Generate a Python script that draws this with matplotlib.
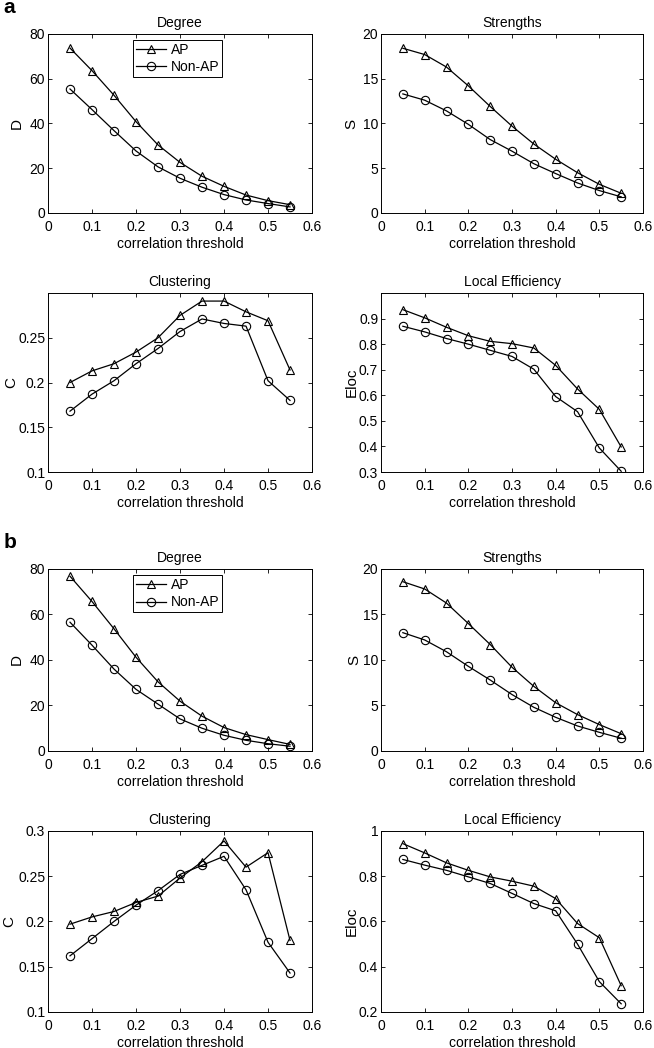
"""
Network metrics vs correlation threshold (AP vs Non-AP), two groups a/b.
"""
import matplotlib
matplotlib.use("Agg")
import matplotlib.pyplot as plt
from matplotlib.ticker import FuncFormatter

plt.rcParams["font.family"] = ["Liberation Sans", "DejaVu Sans"]
plt.rcParams["font.size"] = 10

# ── Data ────────────────────────────────────────────────────
thresholds = [0.05, 0.10, 0.15, 0.20, 0.25, 0.30, 0.35, 0.40, 0.45, 0.50, 0.55]

# panel a
a_degree_ap = [73.7, 63.6, 52.6, 40.8, 30.4, 22.6, 16.4, 11.9, 8.0, 5.5, 3.7]
a_degree_non = [55.4, 46.2, 36.8, 27.7, 20.6, 15.5, 11.5, 8.2, 5.8, 4.2, 2.7]
a_strength_ap = [18.4, 17.7, 16.3, 14.2, 11.9, 9.7, 7.7, 6.0, 4.5, 3.2, 2.2]
a_strength_non = [13.3, 12.6, 11.4, 9.9, 8.2, 6.9, 5.5, 4.4, 3.35, 2.5, 1.8]
a_clust_ap = [0.200, 0.213, 0.221, 0.234, 0.250, 0.275, 0.291, 0.291, 0.279, 0.269, 0.214]
a_clust_non = [0.168, 0.187, 0.202, 0.221, 0.238, 0.257, 0.271, 0.266, 0.263, 0.202, 0.180]
a_eloc_ap = [0.935, 0.903, 0.866, 0.833, 0.811, 0.802, 0.785, 0.717, 0.625, 0.545, 0.398]
a_eloc_non = [0.870, 0.848, 0.822, 0.800, 0.776, 0.752, 0.702, 0.595, 0.536, 0.394, 0.303]

# panel b
b_degree_ap = [76.8, 65.7, 53.7, 41.2, 30.4, 21.9, 15.3, 10.3, 7.2, 5.0, 2.9]
b_degree_non = [56.6, 46.5, 36.0, 27.1, 20.6, 14.1, 10.0, 6.9, 4.7, 3.2, 2.1]
b_strength_ap = [18.6, 17.8, 16.25, 14.0, 11.7, 9.2, 7.1, 5.3, 4.0, 2.9, 1.9]
b_strength_non = [13.0, 12.2, 10.9, 9.3, 7.8, 6.2, 4.8, 3.7, 2.75, 2.05, 1.4]
b_clust_ap = [0.197, 0.205, 0.211, 0.221, 0.228, 0.248, 0.266, 0.289, 0.260, 0.276, 0.179]
b_clust_non = [0.162, 0.181, 0.200, 0.218, 0.234, 0.252, 0.262, 0.272, 0.235, 0.177, 0.143]
b_eloc_ap = [0.944, 0.903, 0.859, 0.826, 0.797, 0.778, 0.756, 0.701, 0.591, 0.528, 0.316]
b_eloc_non = [0.874, 0.849, 0.826, 0.797, 0.768, 0.724, 0.679, 0.647, 0.500, 0.334, 0.236]

x_ticks = [0, 0.1, 0.2, 0.3, 0.4, 0.5, 0.6]

# ── Layout (figure fractions) ───────────────────────────────
COL_LEFT = [0.0734, 0.5826]
COL_WIDTH = [0.4037, 0.4006]
ROWS = [(0.7968, 0.1708), (0.5496, 0.1708), (0.2834, 0.1737), (0.0344, 0.1727)]

fmt = FuncFormatter(lambda v, pos: f"{v:g}")


def draw_panel(fig, row, col, title, ylabel, ap, non, ylim, yticks,
               ylabel_x=-0.09, legend=False):
    ax = fig.add_axes([COL_LEFT[col], ROWS[row][0], COL_WIDTH[col], ROWS[row][1]])
    ax.plot(thresholds, ap, "-^", color="black", lw=0.9, ms=6,
            mfc="none", mec="black", mew=0.8, label="AP")
    ax.plot(thresholds, non, "-o", color="black", lw=0.9, ms=6,
            mfc="none", mec="black", mew=0.8, label="Non-AP")
    ax.set_xlim(0, 0.6)
    ax.set_ylim(*ylim)
    ax.set_xticks(x_ticks)
    ax.set_yticks(yticks)
    ax.xaxis.set_major_formatter(fmt)
    ax.yaxis.set_major_formatter(fmt)
    ax.tick_params(direction="in", top=True, right=True, length=3.2, width=0.6,
                   labelsize=10)
    ax.tick_params(axis="x", pad=5)
    ax.tick_params(axis="y", pad=2)
    for s in ax.spines.values():
        s.set_linewidth(0.7)
    ax.set_title(title, fontsize=10, pad=5)
    ax.set_xlabel("correlation threshold", fontsize=10, labelpad=2)
    ax.set_ylabel(ylabel, fontsize=11)
    ax.yaxis.set_label_coords(ylabel_x, 0.5)
    if legend:
        leg = ax.legend(loc="upper left", bbox_to_anchor=(0.322, 0.966),
                        borderaxespad=0, fancybox=False, edgecolor="black",
                        framealpha=1, handlelength=2.2, fontsize=10,
                        borderpad=0.2, labelspacing=0.25, handletextpad=0.3)
        leg.get_frame().set_linewidth(0.7)
    return ax


# ── Main ────────────────────────────────────────────────────
fig = plt.figure(figsize=(6.54, 10.48), dpi=100)

draw_panel(fig, 0, 0, "Degree", "D", a_degree_ap, a_degree_non,
           (0, 80), [0, 20, 40, 60, 80], ylabel_x=-0.091, legend=True)
draw_panel(fig, 0, 1, "Strengths", "S", a_strength_ap, a_strength_non,
           (0, 20), [0, 5, 10, 15, 20], ylabel_x=-0.086)
draw_panel(fig, 1, 0, "Clustering", "C", a_clust_ap, a_clust_non,
           (0.1, 0.3), [0.1, 0.15, 0.2, 0.25], ylabel_x=-0.112)
draw_panel(fig, 1, 1, "Local Efficiency", "Eloc", a_eloc_ap, a_eloc_non,
           (0.3, 1.0), [0.3, 0.4, 0.5, 0.6, 0.7, 0.8, 0.9], ylabel_x=-0.086)

draw_panel(fig, 2, 0, "Degree", "D", b_degree_ap, b_degree_non,
           (0, 80), [0, 20, 40, 60, 80], ylabel_x=-0.093, legend=True)
draw_panel(fig, 2, 1, "Strengths", "S", b_strength_ap, b_strength_non,
           (0, 20), [0, 5, 10, 15, 20], ylabel_x=-0.074)
draw_panel(fig, 3, 0, "Clustering", "C", b_clust_ap, b_clust_non,
           (0.1, 0.3), [0.1, 0.15, 0.2, 0.25, 0.3], ylabel_x=-0.119)
draw_panel(fig, 3, 1, "Local Efficiency", "Eloc", b_eloc_ap, b_eloc_non,
           (0.2, 1.0), [0.2, 0.4, 0.6, 0.8, 1.0], ylabel_x=-0.086)

fig.text(0.005, 0.9876, "a", fontsize=15, fontweight="bold", va="baseline", ha="left")
fig.text(0.005, 0.4771, "b", fontsize=15, fontweight="bold", va="baseline", ha="left")

fig.savefig("out.png", dpi=100)
plt.close(fig)
